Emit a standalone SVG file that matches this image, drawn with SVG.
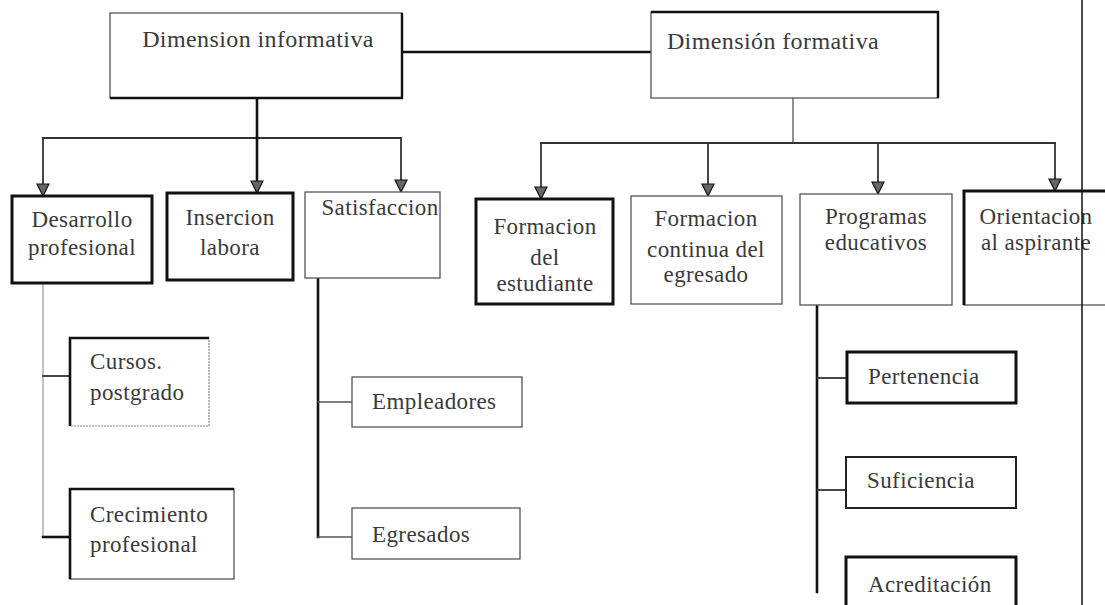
<svg xmlns="http://www.w3.org/2000/svg" width="1105" height="605" viewBox="0 0 1105 605">
<style>
  .bg{fill:#ffffff}
  text{font-family:"Liberation Serif","Times New Roman",serif;fill:#3a3a3a}
  .t1{font-size:24px;letter-spacing:0.4px}
  .t2{font-size:23px;letter-spacing:0.4px}
  .mid{text-anchor:middle}
  .box{fill:#ffffff}
  .thick{stroke:#111;stroke-width:3}
  .med{stroke:#222;stroke-width:2}
  .thin{stroke:#555;stroke-width:1.3}
  .faint{stroke:#888;stroke-width:1.2;stroke-dasharray:2 1}
  .c{fill:none;stroke-linecap:square}
  .cthick{stroke:#111;stroke-width:2.6}
  .cmed{stroke:#333;stroke-width:1.8}
  .cthin{stroke:#555;stroke-width:1.3}
  .cfaint{stroke:#999;stroke-width:1.2;stroke-dasharray:2 1}
</style>
<defs>
  <marker id="arr" markerUnits="userSpaceOnUse" markerWidth="14" markerHeight="14" viewBox="-1 -7 14 14" refX="12" refY="0" orient="auto">
    <path d="M0,-6 L12,0 L0,6 Z" fill="#666" stroke="#111" stroke-width="1.2"/>
  </marker>
</defs>
<rect class="bg" x="0" y="0" width="1105" height="605"/>

<g id="connectors" class="c">
  <line class="cthick" x1="402" y1="52" x2="651" y2="52"/>
  <line class="cthick" x1="257" y1="98" x2="257" y2="138"/>
  <line class="cmed" x1="43" y1="138" x2="401" y2="138"/>
  <line class="cmed" x1="43" y1="138" x2="43" y2="196" marker-end="url(#arr)"/>
  <line class="cthick" x1="257" y1="138" x2="257" y2="193" marker-end="url(#arr)"/>
  <line class="cmed" x1="401" y1="138" x2="401" y2="192" marker-end="url(#arr)"/>
  <line class="cthin" x1="793" y1="98" x2="793" y2="143"/>
  <line class="cmed" x1="541" y1="143" x2="1055" y2="143"/>
  <line class="cmed" x1="541" y1="143" x2="541" y2="199" marker-end="url(#arr)"/>
  <line class="cmed" x1="708" y1="143" x2="708" y2="196" marker-end="url(#arr)"/>
  <line class="cmed" x1="878" y1="143" x2="878" y2="194" marker-end="url(#arr)"/>
  <line class="cmed" x1="1055" y1="143" x2="1055" y2="191" marker-end="url(#arr)"/>
  <line class="cfaint" x1="43" y1="283" x2="43" y2="537"/>
  <line class="cmed" x1="43" y1="376" x2="70" y2="376"/>
  <line class="cthick" x1="43" y1="537" x2="70" y2="537"/>
  <line class="cthick" x1="318" y1="278" x2="318" y2="537"/>
  <line class="cthin" x1="318" y1="402" x2="352" y2="402"/>
  <line class="cthin" x1="318" y1="537" x2="352" y2="537"/>
  <line class="cthick" x1="817" y1="305" x2="817" y2="592"/>
  <line class="cmed" x1="817" y1="378" x2="847" y2="378"/>
  <line class="cmed" x1="817" y1="490" x2="847" y2="490"/>
</g>

<g id="n-dim-informativa">
  <rect class="box thin" x="110" y="13" width="292" height="85"/>
  <path d="M110,98 H402 V13" fill="none" stroke="#111" stroke-width="2.4"/>
  <text class="t1 mid" x="258" y="47">Dimension informativa</text>
</g>
<g id="n-dim-formativa">
  <rect class="box thin" x="651" y="12" width="287" height="86"/>
  <path d="M651,12 H938 V98" fill="none" stroke="#111" stroke-width="2.4"/>
  <text class="t1 mid" x="773" y="49">Dimensión formativa</text>
</g>

<g id="n-desarrollo">
  <rect class="box thick" x="12" y="196" width="140" height="87"/>
  <text class="t2 mid" x="82" y="227">Desarrollo</text>
  <text class="t2 mid" x="82" y="255">profesional</text>
</g>
<g id="n-insercion">
  <rect class="box thick" x="167" y="193" width="126" height="87"/>
  <text class="t2 mid" x="230" y="225">Insercion</text>
  <text class="t2 mid" x="230" y="255">labora</text>
</g>
<g id="n-satisfaccion">
  <rect class="box thin" x="305" y="192" width="135" height="86"/>
  <text class="t2 mid" x="380" y="215">Satisfaccion</text>
</g>

<g id="n-formacion-estudiante">
  <rect class="box thick" x="476" y="199" width="137" height="105"/>
  <text class="t2 mid" x="545" y="234">Formacion</text>
  <text class="t2 mid" x="545" y="265">del</text>
  <text class="t2 mid" x="545" y="291">estudiante</text>
</g>
<g id="n-formacion-egresado">
  <rect class="box thin" x="631" y="196" width="151" height="108"/>
  <text class="t2 mid" x="706" y="226">Formacion</text>
  <text class="t2 mid" x="706" y="257">continua del</text>
  <text class="t2 mid" x="706" y="282">egresado</text>
</g>
<g id="n-programas">
  <rect class="box thin" x="800" y="194" width="152" height="111"/>
  <text class="t2 mid" x="876" y="224">Programas</text>
  <text class="t2 mid" x="876" y="250">educativos</text>
</g>
<g id="n-orientacion">
  <rect class="box thin" x="964" y="191" width="150" height="114"/>
  <path d="M964,305 V191 H1110" fill="none" stroke="#111" stroke-width="3"/>
  <text class="t2 mid" x="1036" y="224">Orientacion</text>
  <text class="t2 mid" x="1036" y="250">al aspirante</text>
</g>

<g id="n-cursos">
  <rect class="box faint" x="70" y="338" width="139" height="88"/>
  <path d="M70,426 V338 H209" fill="none" stroke="#111" stroke-width="2.6"/>
  <text class="t2" x="90" y="369">Cursos.</text>
  <text class="t2" x="90" y="400">postgrado</text>
</g>
<g id="n-crecimiento">
  <rect class="box thin" x="70" y="489" width="164" height="90"/>
  <path d="M70,579 V489 H234" fill="none" stroke="#111" stroke-width="2.6"/>
  <text class="t2" x="90" y="522">Crecimiento</text>
  <text class="t2" x="90" y="552">profesional</text>
</g>
<g id="n-empleadores">
  <rect class="box thin" x="352" y="377" width="170" height="50"/>
  <text class="t2" x="372" y="409">Empleadores</text>
</g>
<g id="n-egresados">
  <rect class="box thin" x="352" y="508" width="168" height="51"/>
  <text class="t2" x="372" y="542">Egresados</text>
</g>
<g id="n-pertenencia">
  <rect class="box thick" x="847" y="352" width="169" height="51"/>
  <text class="t2" x="868" y="384">Pertenencia</text>
</g>
<g id="n-suficiencia">
  <rect class="box med" x="846" y="457" width="170" height="51"/>
  <text class="t2" x="867" y="488">Suficiencia</text>
</g>
<g id="n-acreditacion">
  <rect class="box thick" x="846" y="557" width="170" height="60"/>
  <text class="t2" x="868" y="592">Acreditación</text>
</g>

<line x1="1082" y1="0" x2="1082" y2="605" stroke="#111" stroke-width="1.5"/>
</svg>
